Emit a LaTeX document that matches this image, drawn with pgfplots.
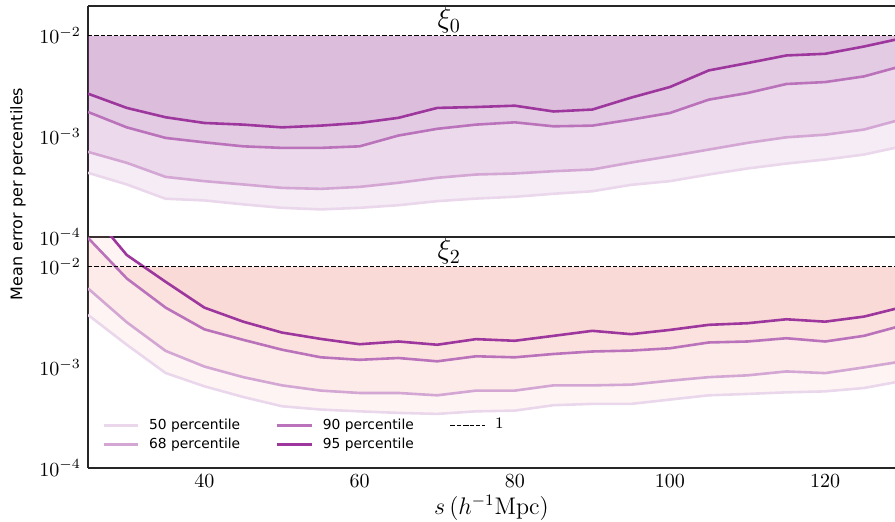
\documentclass[border=0pt]{standalone}
\usepackage{pgfplots}
\pgfplotsset{compat=1.18}
\usepackage{pgfplotstable}
\usepgfplotslibrary{fillbetween}
\usepackage{fontspec}
\newfontfamily\dejavu{DejaVu Sans}

\definecolor{pur}{RGB}{140,20,140}
\colorlet{c95}{pur!85!white}
\colorlet{c90}{pur!60!white}
\colorlet{c68}{pur!38!white}
\colorlet{c50}{pur!17!white}
\definecolor{fillA}{RGB}{155,65,155}
\definecolor{fillB}{RGB}{240,150,140}

% xi_0 panel
\pgfplotstableread{
s   p50     p68     p90     p95
25  4.35e-4 7.02e-4 1.75e-3 2.66e-3
30  3.33e-4 5.46e-4 1.23e-3 1.92e-3
35  2.40e-4 3.96e-4 9.66e-4 1.55e-3
40  2.31e-4 3.59e-4 8.73e-4 1.36e-3
45  2.11e-4 3.33e-4 7.97e-4 1.31e-3
50  1.95e-4 3.08e-4 7.69e-4 1.23e-3
55  1.88e-4 3.01e-4 7.69e-4 1.28e-3
60  1.95e-4 3.15e-4 7.97e-4 1.36e-3
65  2.07e-4 3.46e-4 1.02e-3 1.53e-3
70  2.27e-4 3.88e-4 1.19e-3 1.92e-3
75  2.41e-4 4.18e-4 1.31e-3 1.96e-3
80  2.51e-4 4.28e-4 1.38e-3 2.02e-3
85  2.69e-4 4.51e-4 1.26e-3 1.77e-3
90  2.85e-4 4.69e-4 1.28e-3 1.85e-3
95  3.30e-4 5.50e-4 1.47e-3 2.43e-3
100 3.59e-4 6.35e-4 1.71e-3 3.10e-3
105 4.18e-4 7.40e-4 2.32e-3 4.53e-3
110 4.80e-4 8.63e-4 2.70e-3 5.36e-3
115 5.37e-4 9.80e-4 3.32e-3 6.38e-3
120 5.89e-4 1.04e-3 3.47e-3 6.63e-3
125 6.60e-4 1.17e-3 3.95e-3 7.83e-3
130 8.00e-4 1.49e-3 5.04e-3 9.50e-3
}\xizero

% xi_2 panel
\pgfplotstableread{
s   p50     p68     p90     p95
25  3.33e-3 6.10e-3 1.94e-2 3.80e-2
30  1.68e-3 2.81e-3 7.66e-3 1.31e-2
35  8.80e-4 1.46e-3 3.93e-3 7.10e-3
40  6.49e-4 1.02e-3 2.39e-3 3.93e-3
45  5.08e-4 8.00e-4 1.88e-3 2.85e-3
50  4.11e-4 6.63e-4 1.50e-3 2.22e-3
55  3.81e-4 5.88e-4 1.26e-3 1.92e-3
60  3.66e-4 5.57e-4 1.19e-3 1.70e-3
65  3.53e-4 5.57e-4 1.24e-3 1.81e-3
70  3.45e-4 5.28e-4 1.15e-3 1.68e-3
75  3.66e-4 5.88e-4 1.29e-3 1.91e-3
80  3.72e-4 5.88e-4 1.26e-3 1.84e-3
85  4.21e-4 6.63e-4 1.36e-3 2.06e-3
90  4.34e-4 6.63e-4 1.44e-3 2.31e-3
95  4.34e-4 6.74e-4 1.47e-3 2.14e-3
100 4.79e-4 7.38e-4 1.55e-3 2.36e-3
105 5.28e-4 8.00e-4 1.77e-3 2.65e-3
110 5.45e-4 8.34e-4 1.81e-3 2.75e-3
115 5.65e-4 9.12e-4 1.95e-3 3.01e-3
120 5.78e-4 8.78e-4 1.81e-3 2.85e-3
125 6.24e-4 1.00e-3 2.06e-3 3.20e-3
130 7.35e-4 1.15e-3 2.62e-3 3.99e-3
}\xitwo

\begin{document}
\begin{tikzpicture}
\begin{axis}[name=top, xticklabels=\empty,
    scale only axis, width=403.5pt, height=115.5pt,
    xmin=25, xmax=129, ymin=1e-4, ymax=0.0198,
    ymode=log, axis y line*=left,
    ytick={1e-4,1e-3,1e-2}, xtick={40,60,80,100,120},
    major tick length=0pt, minor tick length=0pt,
    axis line style={black!85, line width=0.6pt},
    tick label style={font=\fontsize{10}{12}\selectfont},
    set layers]
\addplot[name path=a50, line width=1.3pt, forget plot, c50] table[x=s,y=p50]{\xizero};
\addplot[name path=a68, line width=1.3pt, forget plot, c68] table[x=s,y=p68]{\xizero};
\addplot[name path=a90, line width=1.3pt, forget plot, c90] table[x=s,y=p90]{\xizero};
\addplot[name path=a95, line width=1.3pt, forget plot, c95] table[x=s,y=p95]{\xizero};
\addplot[name path=alim, black, line width=0.6pt, dash pattern=on 2.2pt off 1pt, forget plot] coordinates {(25,1e-2) (130,1e-2)};
\addplot[fillA, fill opacity=0.1, forget plot] fill between[of=a50 and alim];
\addplot[fillA, fill opacity=0.1, forget plot] fill between[of=a68 and alim];
\addplot[fillA, fill opacity=0.1, forget plot] fill between[of=a90 and alim];
\addplot[fillA, fill opacity=0.1, forget plot] fill between[of=a95 and alim];
\node[anchor=south west, inner sep=0pt, font=\fontsize{14}{16}\selectfont] at (axis cs:70,1.05e-2) {$\xi_0$};
\end{axis}

\begin{axis}[name=bot, at={(top.south west)}, anchor=north west,
    scale only axis, width=403.5pt, height=115.5pt,
    xmin=25, xmax=129, ymin=1e-4, ymax=0.0198,
    ymode=log, axis y line*=left,
    ytick={1e-4,1e-3,1e-2}, xtick={40,60,80,100,120},
    major tick length=0pt, minor tick length=0pt,
    axis line style={black!85, line width=0.6pt},
    tick label style={font=\fontsize{10}{12}\selectfont},
    set layers,
    xlabel={$s\,(h^{-1}\mathrm{Mpc})$},
    xlabel style={font=\fontsize{12}{14}\selectfont, yshift=3pt},
    legend columns=3, legend cell align=left,
    legend style={draw=none, fill=none, at={(0.01,0.035)}, anchor=south west,
      font=\dejavu\fontsize{6.9}{8}\selectfont, row sep=-1pt,
      /tikz/every odd column/.append style={column sep=3pt},
      /tikz/every even column/.append style={column sep=16pt}}]
\addplot[name path=b50, line width=1.3pt, forget plot, c50] table[x=s,y=p50]{\xitwo};
\addplot[name path=b68, line width=1.3pt, forget plot, c68] table[x=s,y=p68]{\xitwo};
\addplot[name path=b90, line width=1.3pt, forget plot, c90] table[x=s,y=p90]{\xitwo};
\addplot[name path=b95, line width=1.3pt, forget plot, c95] table[x=s,y=p95]{\xitwo};
\addplot[name path=blim, black, line width=0.6pt, dash pattern=on 2.2pt off 1pt, forget plot] coordinates {(25,1e-2) (130,1e-2)};
\addplot[fillB, fill opacity=0.1, forget plot] fill between[of=b50 and blim];
\addplot[fillB, fill opacity=0.1, forget plot] fill between[of=b68 and blim];
\addplot[fillB, fill opacity=0.1, forget plot] fill between[of=b90 and blim, soft clip={domain=30:130}];
\addplot[fillB, fill opacity=0.1, forget plot] fill between[of=b95 and blim, soft clip={domain=35:130}];
\node[anchor=south west, inner sep=0pt, font=\fontsize{14}{16}\selectfont] at (axis cs:70,1.05e-2) {$\xi_2$};
\addlegendimage{c50, line width=1.3pt}
\addlegendentry{50 percentile}
\addlegendimage{c90, line width=1.3pt}
\addlegendentry{90 percentile}
\addlegendimage{black, line width=0.6pt, dash pattern=on 2.2pt off 1pt}
\addlegendentry{\fontsize{8}{9}\selectfont$1$}
\addlegendimage{c68, line width=1.3pt}
\addlegendentry{68 percentile}
\addlegendimage{c95, line width=1.3pt}
\addlegendentry{95 percentile}
\end{axis}

\node[rotate=90, font=\dejavu\fontsize{8}{10}\selectfont] at ([xshift=-35pt,yshift=21.5pt]top.south west) {Mean error per percentiles};

\pgfresetboundingbox
\path ([xshift=-44pt,yshift=-27pt]bot.south west) rectangle ([yshift=3pt]top.north east);
\end{tikzpicture}
\end{document}
